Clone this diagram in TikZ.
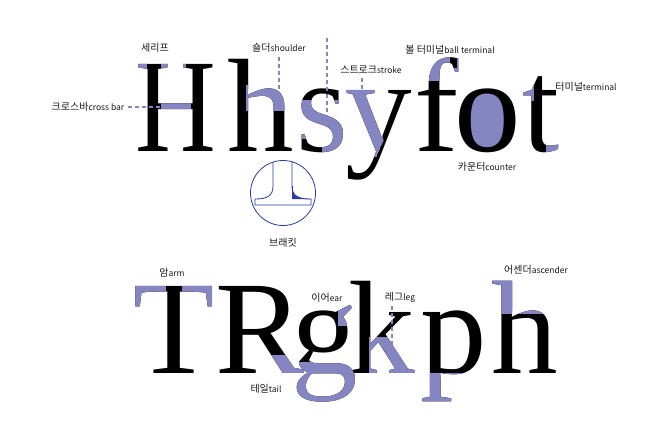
\documentclass[tikz,border=0pt]{standalone}
\usepackage{fontspec}
\newfontfamily\glyphfont{Liberation Serif}
\newfontfamily\hangulfont{Noto Sans CJK KR}
\usetikzlibrary{positioning}
\usetikzlibrary{calc}
\definecolor{anat}{RGB}{133,133,194}
\definecolor{brk}{RGB}{45,60,160}
\newcommand\eng[1]{{\fontsize{8.5}{10}\selectfont #1}}

\begin{document}
\begin{tikzpicture}[x=1pt,y=-1pt,
  glyph/.style={font={\glyphfont\fontsize{133}{133}\selectfont}, inner sep=0pt, anchor=base west},
  part/.style={glyph, text=anat},
  tag/.style={font={\hangulfont\fontsize{10}{12}\selectfont}, inner sep=0pt, text=black!90},
  guide/.style={anat, line width=1.4pt, dash pattern=on 4pt off 3pt}]
\useasboundingbox[fill=white] (0,0) rectangle (660,436);

% counter of o goes behind the letter
\fill[anat] (487.5,121) ellipse (20 and 29);

% first row
\node[glyph] (H) at (135,151) {\scalebox{0.84}[1]{H}};
\node[glyph] (h) at (227,151) {h};
\node[glyph] (s) at (296,151) {s};
\node[glyph] (y) at (345,151) {y};
\node[glyph] (f) at (414,151) {f};
\node[glyph] (o) at (454,151) {o};
\node[glyph] (t) at (522,151) {t};

% second row
\node[glyph] (T) at (133,373) {T};
\node[glyph] (R) at (215,373) {R};
\node[glyph] (g) at (291,373) {g};
\node[glyph] (k) at (348,373) {k};
\node[glyph] (p) at (420,373) {p};
\node[glyph] (h2) at (491,373) {h};

% purple parts
\begin{scope}
  \clip (125,55) rectangle (146,73) (161,55) rectangle (185,73) (161,96) rectangle (190,114);
  \node[part] at (H.base west) {\scalebox{0.84}[1]{H}};
\end{scope}
\begin{scope}
  \clip (246,85) rectangle (300,110);
  \node[part] at (h.base west) {h};
\end{scope}
\begin{scope}
  \clip (296,100) rectangle (350,138) (322,138) rectangle (350,156);
  \node[part] at (s.base west) {s};
\end{scope}
\begin{scope}
  \clip (340,85) -- (381,85) -- (383,140) -- (376,156) -- (340,156) -- cycle;
  \node[part] at (y.base west) {y};
\end{scope}
\begin{scope}
  \clip (418,52) rectangle (470,80);
  \node[part] at (f.base west) {f};
\end{scope}
\begin{scope}
  \clip (450,55) rectangle (456,67);
  \node[glyph] at (f.base west) {f};
\end{scope}
\begin{scope}
  \clip (518,86) rectangle (533,100) (546,133) rectangle (565,156);
  \node[part] at (t.base west) {t};
\end{scope}
\begin{scope}
  \clip (125,280) rectangle (165,310) (182,280) rectangle (222,310);
  \node[part] at (T.base west) {T};
\end{scope}
\begin{scope}
  \clip (268,355) rectangle (310,380);
  \node[part] at (R.base west) {R};
\end{scope}
\begin{scope}
  \clip (338,305) rectangle (362,325) (285,362) rectangle (365,410);
  \node[part] at (g.base west) {g};
\end{scope}
\begin{scope}
  \clip (369,337) rectangle (422,380);
  \node[part] at (k.base west) {k};
\end{scope}
\begin{scope}
  \clip (410,373) rectangle (490,410);
  \node[part] at (p.base west) {p};
\end{scope}
\begin{scope}
  \clip (480,280) rectangle (565,313);
  \node[part] at (h2.base west) {h};
\end{scope}

% bracket
\node[circle, draw=brk, thick, minimum size=65pt, inner sep=0pt] (brkc) at (283,193) {};
\fill[brk] (292,186) .. controls (292,196) and (298,199) .. (311,199) -- (292,199) -- cycle;
\draw[brk, thick] (273,162) -- (273,186) .. controls (273,196) and (267,199) .. (255,199)
  -- (255,205) -- (311,205) -- (311,199) .. controls (298,199) and (292,196) .. (292,186) -- (292,161);
\draw[brk, thick] (292,186) -- (292,199);

% labels
\node[tag] (serif) at (155,48) {세리프};
\node[tag] (shoulder) at (279,48) {숄더\eng{shoulder}};
\node[tag] (crossbar) at (88,107) {크로스바\eng{cross bar}};
\node[tag] (stroke) at (371,70) {스트로크\eng{stroke}};
\node[tag] (ball) at (450,50) {볼 터미널\eng{ball terminal}};
\node[tag] (terminal) at (586,87) {터미널\eng{terminal}};
\node[tag] (counter) at (487,167) {카운터\eng{counter}};
\node[tag] (bracket) at (283,243) {브래킷};
\node[tag] (arm) at (172,273) {암\eng{arm}};
\node[tag] (ear) at (327,298) {이어\eng{ear}};
\node[tag] (tail) at (266,389) {테일\eng{tail}};
\node[tag] (leg) at (400,297) {레그\eng{leg}};
\node[tag] (ascender) at (536,270) {어센더\eng{ascender}};

% guides
\coordinate (barpt) at (165,107);
\coordinate (shoulderpt) at (279,92);
\coordinate (strokept) at (362,94);
\coordinate (legpt) at (392,348);
\draw[guide] ($(crossbar.east)+(4,0)$) -- (barpt);
\draw[guide] ($(shoulder.south)+(0,4)$) -- (shoulderpt);
\draw[guide] ($(stroke.south -| strokept)+(0,4)$) -- (strokept);
\draw[guide] ($(leg.south -| legpt)+(0,4)$) -- (legpt);
\draw[guide] (327,38) -- (327,120);

\end{tikzpicture}
\end{document}
